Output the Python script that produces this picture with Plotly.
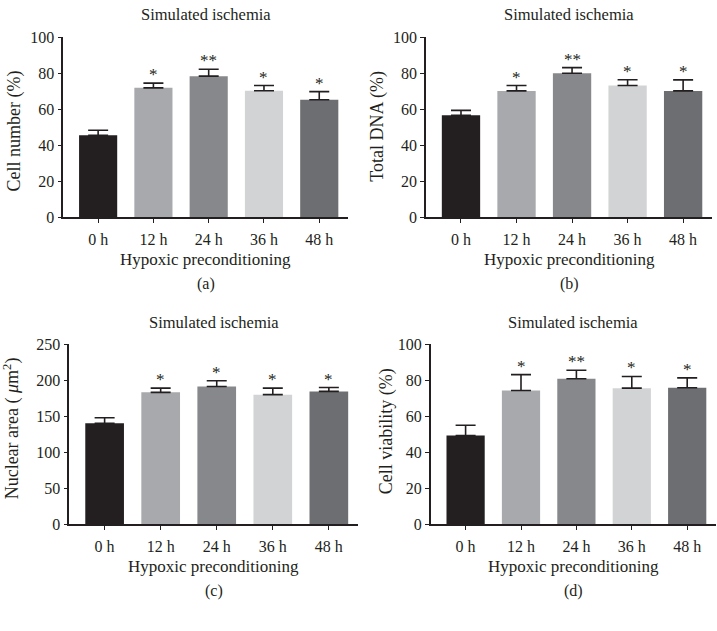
import plotly.graph_objects as go

categories = ["0 h", "12 h", "24 h", "36 h", "48 h"]
bar_colors = ["#231f20", "#a7a9ac", "#87888b", "#d1d3d4", "#6d6e71"]

cell_number = [45.6, 71.9, 78.4, 70.3, 65.3]
cell_number_err = [2.8, 2.6, 3.8, 2.9, 4.5]
cell_number_sig = ["", "*", "**", "*", "*"]

total_dna = [56.7, 70.2, 80.0, 73.2, 70.2]
total_dna_err = [2.7, 3.0, 3.1, 3.2, 6.1]
total_dna_sig = ["", "*", "**", "*", "*"]

nuclear_area = [140.5, 183.4, 191.5, 180.2, 184.7]
nuclear_area_err = [7.7, 5.8, 8.1, 9.0, 5.4]
nuclear_area_sig = ["", "*", "*", "*", "*"]

cell_viability = [49.4, 74.4, 80.9, 75.7, 75.9]
cell_viability_err = [5.7, 8.8, 4.7, 6.5, 5.5]
cell_viability_sig = ["", "*", "**", "*", "*"]

panels = [
    dict(vals=cell_number, err=cell_number_err, sig=cell_number_sig, ytitle="Cell number (%)",
         ymax=100, dtick=20, label="(a)",
         xdom=[63.3 / 717, 348 / 717], ydom=[1 - 215.3 / 631, 1 - 30 / 631], ytx=15, yty=127),
    dict(vals=total_dna, err=total_dna_err, sig=total_dna_sig, ytitle="Total DNA (%)",
         ymax=100, dtick=20, label="(b)",
         xdom=[426 / 717, 712 / 717], ydom=[1 - 215.3 / 631, 1 - 30 / 631], ytx=378, yty=122),
    dict(vals=nuclear_area, err=nuclear_area_err, sig=nuclear_area_sig,
         ytitle="Nuclear area ( <i>μ</i>m<sup>2</sup>)",
         ymax=250, dtick=50, label="(c)",
         xdom=[69.3 / 717, 358 / 717], ydom=[1 - 530.7 / 631, 1 - 345.7 / 631], ytx=12, yty=432),
    dict(vals=cell_viability, err=cell_viability_err, sig=cell_viability_sig, ytitle="Cell viability (%)",
         ymax=100, dtick=20, label="(d)",
         xdom=[430.7 / 717, 716 / 717], ydom=[1 - 530.7 / 631, 1 - 345.7 / 631], ytx=386, yty=435),
]

FONT = "Liberation Serif"
TXT = "#231f20"
fig = go.Figure()
annotations = []
layout_axes = {}

for i, p in enumerate(panels):
    n = "" if i == 0 else str(i + 1)
    xa, ya = "x" + n, "y" + n
    fig.add_trace(go.Bar(
        x=list(range(len(categories))), y=p["vals"], xaxis=xa, yaxis=ya,
        marker=dict(color=bar_colors, line=dict(width=0)), width=0.69,
        error_y=dict(type="data", array=p["err"], arrayminus=[0] * len(p["err"]),
                     symmetric=False, color=TXT, thickness=1.6, width=10),
        showlegend=False, hoverinfo="skip",
    ))
    layout_axes["xaxis" + n] = dict(
        domain=p["xdom"], anchor=ya, range=[-0.63, 4.52],
        tickmode="array", tickvals=list(range(len(categories))), ticktext=categories,
        showline=True, linecolor=TXT, linewidth=1.6, ticks="outside", ticklen=4,
        tickwidth=1.4, tickcolor=TXT, showgrid=False, zeroline=False,
        tickfont=dict(family=FONT, size=16, color=TXT), ticklabelstandoff=3,
        fixedrange=True,
    )
    layout_axes["yaxis" + n] = dict(
        domain=p["ydom"], anchor=xa, range=[0, p["ymax"]], tick0=0, dtick=p["dtick"],
        showline=True, linecolor=TXT, linewidth=1.6, ticks="outside", ticklen=4,
        tickwidth=1.4, tickcolor=TXT, showgrid=False, zeroline=False,
        tickfont=dict(family=FONT, size=16, color=TXT), fixedrange=True,
    )
    cx = (p["xdom"][0] + p["xdom"][1]) / 2
    top = p["ydom"][1]
    bot = p["ydom"][0]
    annotations.append(dict(text="Simulated ischemia", x=cx, y=top + 23 / 631, xref="paper", yref="paper",
                            xanchor="center", yanchor="middle", showarrow=False,
                            font=dict(family=FONT, size=16.5, color=TXT)))
    annotations.append(dict(text="Hypoxic preconditioning", x=cx, y=bot - 43 / 631, xref="paper", yref="paper",
                            xanchor="center", yanchor="middle", showarrow=False,
                            font=dict(family=FONT, size=17, color=TXT)))
    annotations.append(dict(text=p["label"], x=cx, y=bot - 68 / 631, xref="paper", yref="paper",
                            xanchor="center", yanchor="middle", showarrow=False,
                            font=dict(family=FONT, size=16, color=TXT)))
    annotations.append(dict(text=p["ytitle"], x=p["ytx"] / 717, y=1 - p["yty"] / 631, xref="paper", yref="paper",
                            xanchor="center", yanchor="middle", showarrow=False, textangle=-90,
                            font=dict(family=FONT, size=18, color=TXT)))
    for j, s in enumerate(p["sig"]):
        if s:
            annotations.append(dict(text=s, x=j, y=p["vals"][j] + p["err"][j], xref=xa, yref=ya,
                                    xanchor="center", yanchor="bottom", showarrow=False, yshift=-3,
                                    font=dict(family=FONT, size=17, color=TXT)))

fig.update_layout(
    width=717, height=631, margin=dict(l=0, r=0, t=0, b=0),
    paper_bgcolor="white", plot_bgcolor="white",
    annotations=annotations, **layout_axes,
)
fig.write_html("out.html", config={"displayModeBar": False},
               post_script="document.body.style.margin='0px';document.body.style.overflow='hidden';")
